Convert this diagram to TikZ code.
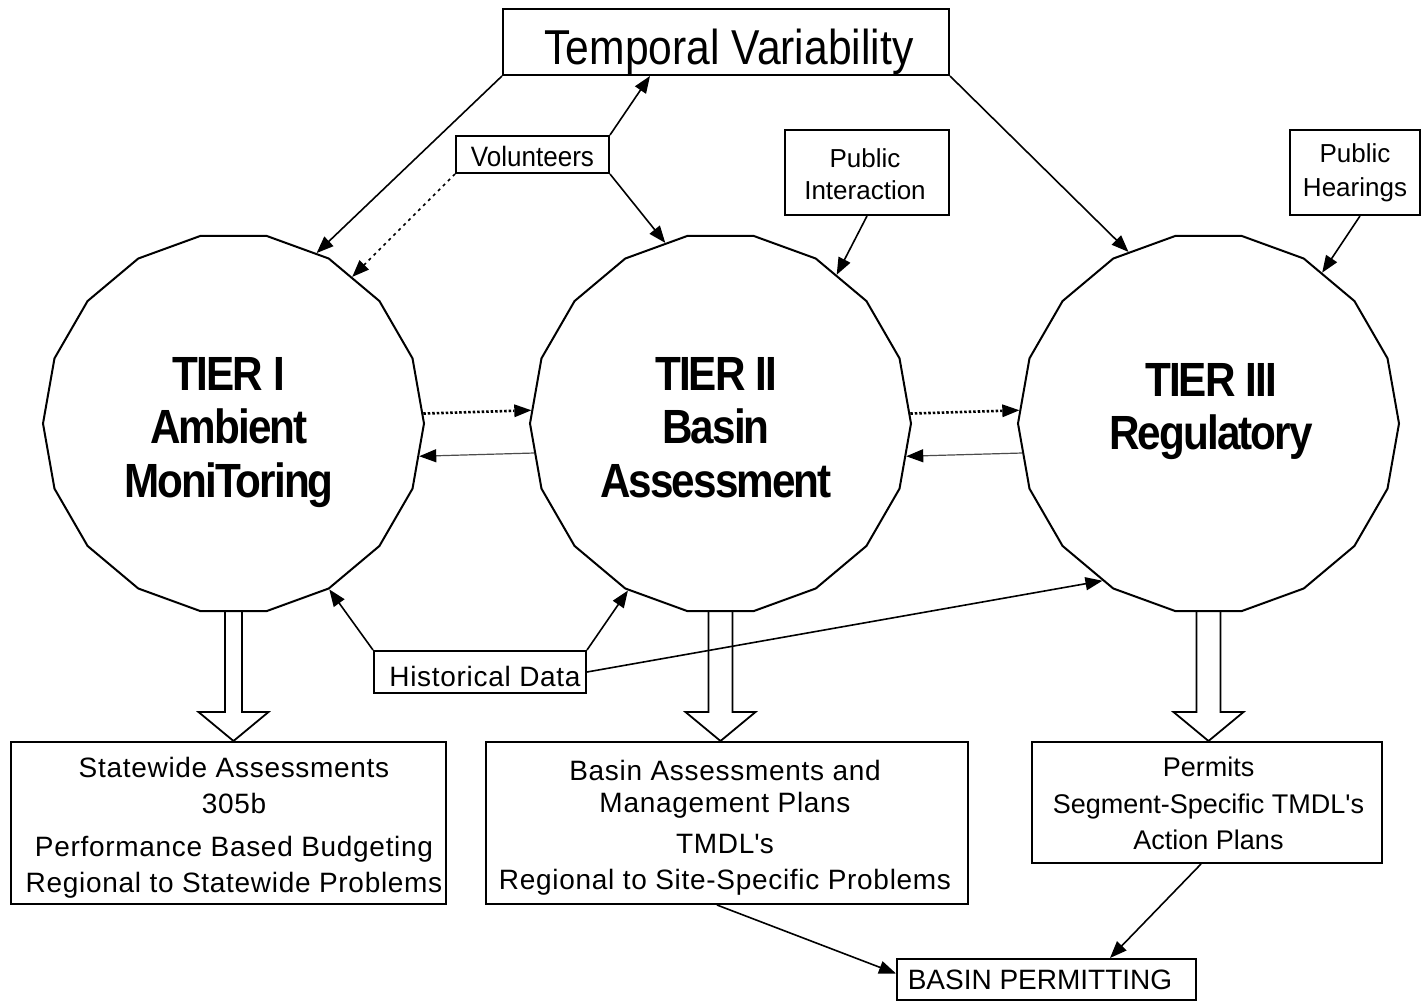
\documentclass[tikz,border=0pt]{standalone}
\usepackage{fontspec}
\setmainfont{Liberation Sans}
\newfontfamily\tierfont[FakeStretch=0.88,LetterSpace=-4]{Liberation Sans}
\newfontfamily\narrowfont[FakeStretch=0.87]{Liberation Sans}
\newfontfamily\volfont[FakeStretch=0.93]{Liberation Sans}
\newfontfamily\spacedfont[LetterSpace=2.5]{Liberation Sans}
\usetikzlibrary{shapes.geometric,arrows.meta,calc}

\newcommand\fatarr[3]{%
  \coordinate (#1tip) at (#1.south |- #2.north);
  \draw[fat] ($(#1.south)+(-#3,0)$) -- ($(#1tip)+(-#3,-29)$) -- ($(#1tip)+(-35,-29)$) -- (#1tip)
    -- ($(#1tip)+(35,-29)$) -- ($(#1tip)+(#3,-29)$) -- ($(#1.south)+(#3,0)$);
}

\begin{document}
\begin{tikzpicture}[x=1pt,y=-1pt,
  box/.style={draw,line width=2pt,inner sep=0pt},
  tier/.style={draw,line width=2pt,regular polygon,regular polygon sides=18,minimum size=381pt,inner sep=0pt},
  txt/.style={inner sep=0pt,align=center},
  arr/.style={line width=1.6pt,-{Triangle[length=17pt,width=13pt]}},
  dotarr/.style={arr,dash pattern=on 3pt off 4pt},
  thickdot/.style={line width=2.6pt,dash pattern=on 2.5pt off 2pt,-{Triangle[length=17pt,width=13pt,line width=0pt]}},
  backarr/.style={line width=1.2pt,black!70,-{Triangle[length=17pt,width=13pt,color=black]}},
  fat/.style={line width=1.8pt,line join=miter}
]
\useasboundingbox (0,0) rectangle (1422,1002);
\fill[white] (0,0) rectangle (1422,1002);

% boxes
\node[box,minimum width=446pt,minimum height=66pt] (tv) at (726,42) {};
\node[txt,anchor=base,font=\narrowfont\fontsize{49}{55}\selectfont] (tvt) at (729,64) {Temporal Variability};

\node[box,minimum width=153pt,minimum height=37pt] (vol) at (532.5,154.5) {};
\node[txt,anchor=base,font=\volfont\fontsize{28}{32}\selectfont] (volt) at (532.5,166.5) {Volunteers};

\node[box,minimum width=164pt,minimum height=85pt] (pi) at (867,172.5) {};
\node[txt,anchor=north,font=\fontsize{26}{32.5}\selectfont] (pit) at (865,148) {Public\\Interaction};

\node[box,minimum width=130pt,minimum height=85pt] (ph) at (1355,172.5) {};
\node[txt,anchor=north,font=\fontsize{26}{34}\selectfont] (pht) at (1355,143) {Public\\Hearings};

% tiers
\node[tier] (t1) at (233.5,423.5) {};
\node[tier] (t2) at (720.5,423.5) {};
\node[tier] (t3) at (1208.5,423.5) {};
\node[txt,anchor=north,font=\tierfont\bfseries\fontsize{48}{53.5}\selectfont] (t1t) at (229,357) {TIER I\\Ambient\\MoniToring};
\node[txt,anchor=north,font=\tierfont\bfseries\fontsize{48}{53.5}\selectfont] (t2t) at (716,357) {TIER II\\Basin\\Assessment};
\node[txt,anchor=north,font=\tierfont\bfseries\fontsize{48}{53}\selectfont] (t3t) at (1211,363) {TIER III\\Regulatory};

% lower boxes
\node[box,minimum width=435pt,minimum height=162pt] (sw) at (228.5,823) {};
\node[txt,anchor=north,font=\spacedfont\fontsize{28}{36}\selectfont] (swt) at (234,757) {Statewide Assessments\\305b\\[7pt]Performance Based Budgeting\\Regional to Statewide Problems};

\node[box,minimum width=482pt,minimum height=162pt] (ba) at (727,823) {};
\node[txt,anchor=north,font=\spacedfont\fontsize{28}{34}\selectfont] (bat) at (725,760) {Basin Assessments and\\[-2pt]Management Plans\\[7pt]TMDL\textquotesingle s\\[2pt]Regional to Site-Specific Problems};

\node[box,minimum width=350pt,minimum height=121pt] (pe) at (1207,802.5) {};
\node[txt,anchor=north,font=\fontsize{27}{36.5}\selectfont] (pet) at (1208.5,757) {Permits\\Segment-Specific TMDL\textquotesingle s\\Action Plans};

\node[box,minimum width=299pt,minimum height=41pt] (bp) at (1046.5,979.5) {};
\node[txt,anchor=base,font=\fontsize{28}{32}\selectfont] (bpt) at (1040,989) {BASIN PERMITTING};

\node[box,minimum width=212pt,minimum height=42pt] (hd) at (480,672) {};
\node[txt,anchor=base,font=\spacedfont\fontsize{28}{32}\selectfont] (hdt) at (485,686) {Historical Data};

% fat arrows
\fatarr{t1}{sw}{8.5}
\fatarr{t2}{ba}{12}
\fatarr{t3}{pe}{12}

% connectors
\draw[arr] (tv.south west) -- (t1.64);
\draw[arr] (tv.south east) -- (t3.115.8);
\draw[arr] (vol.north east) -- ($(tv.south)+(-76,0)$);
\draw[dotarr] (vol.south west) -- (t1.51.2);
\draw[arr] (vol.south east) -- (t2.107.5);
\draw[arr] (pi.south) -- (t2.52.7);
\draw[arr] ([xshift=5pt]ph.south) -- (t3.53.2);

\draw[thickdot] (t1.3.5) -- (t2.176.5);
\draw[thickdot] (t2.3.5) -- (t3.176.5);
\draw[backarr] (t2.189.9) -- (t1.350.1);
\draw[backarr] (t3.189.9) -- (t2.350.1);

\draw[arr] (hd.north west) -- (t1.300.3);
\draw[arr] (hd.north east) -- (t2.241.9);
\draw[arr] (hd.east) -- (t3.236.6);

\draw[arr] ([xshift=-10pt]ba.south) -- ($(bp.west)+(0,-6)$);
\draw[arr] ([xshift=-6pt]pe.south) -- ($(bp.north)+(63.5,0)$);
\end{tikzpicture}
\end{document}
